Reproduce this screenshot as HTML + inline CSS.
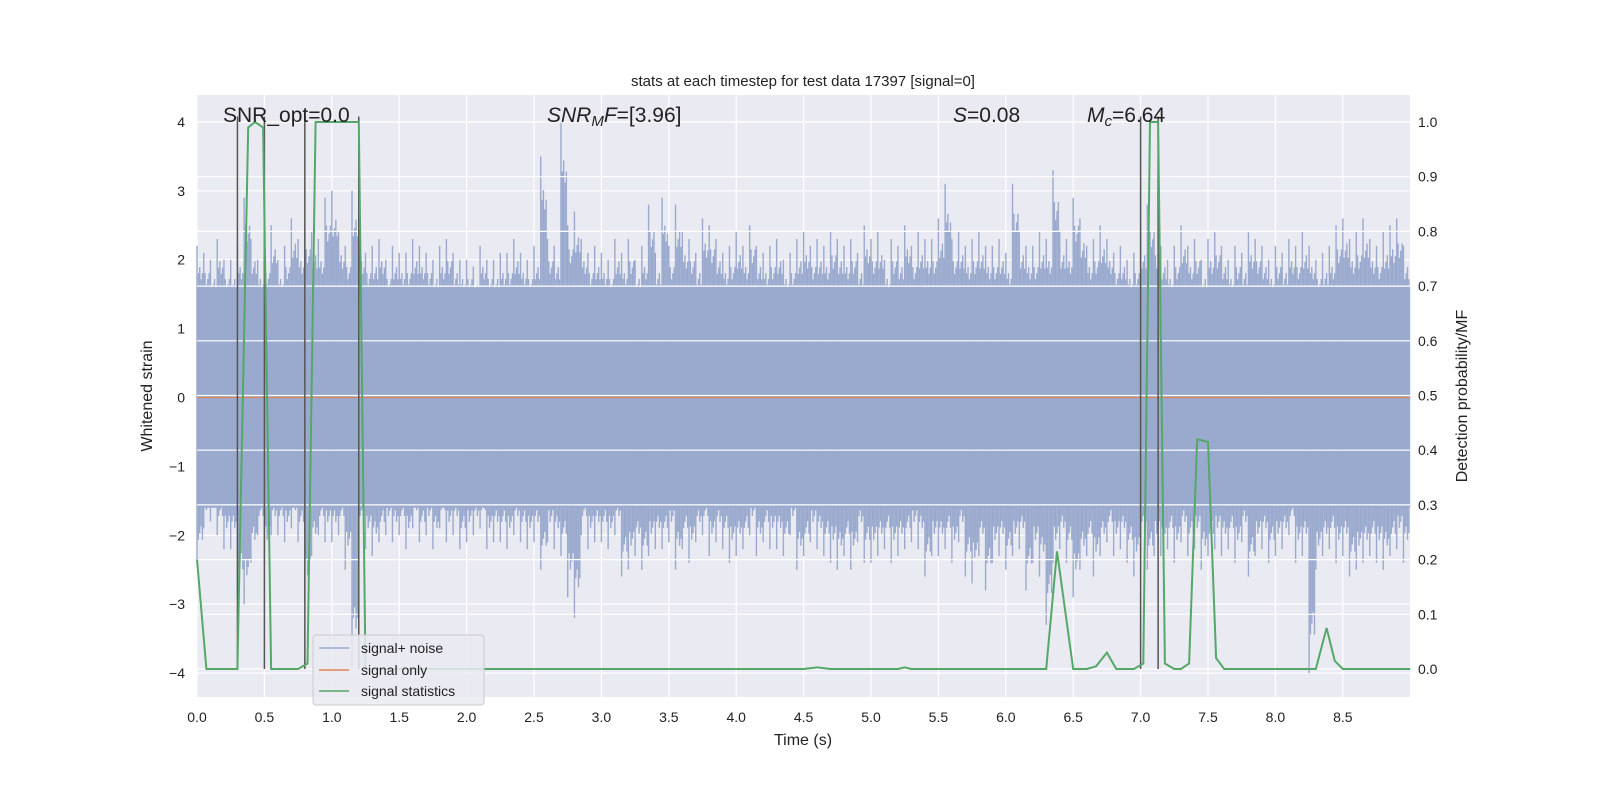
<!DOCTYPE html>
<html><head><meta charset="utf-8"><style>
html,body{margin:0;padding:0;background:#fff;}
svg{display:block;font-family:"Liberation Sans","DejaVu Sans",sans-serif;}
</style></head><body>
<svg id="chart" width="1600" height="800" viewBox="0 0 1600 800">
<rect x="0" y="0" width="1600" height="800" fill="#fff"/>
<rect x="197" y="95" width="1213" height="602" fill="#EAEAF2"/>
<g id="grid"></g>
<g id="noise"></g>
<g id="grid2"></g>
<g id="sig"></g>
<g id="vlines"></g>
<g id="stat"></g>
<g id="axes"></g>
<text x="803" y="86" font-size="15" text-anchor="middle" fill="#222">stats at each timestep for test data 17397 [signal=0]</text>
<text x="223" y="122" font-size="21" fill="#222">SNR_opt=0.0</text>
<text x="547" y="122" font-size="21" fill="#222"><tspan font-style="italic">SNR</tspan><tspan font-style="italic" font-size="15" dy="4">M</tspan><tspan font-style="italic" dy="-4">F</tspan>=[3.96]</text>
<text x="953" y="122" font-size="21" fill="#222"><tspan font-style="italic">S</tspan>=0.08</text>
<text x="1087" y="122" font-size="21" fill="#222"><tspan font-style="italic">M</tspan><tspan font-style="italic" font-size="15" dy="4">c</tspan><tspan dy="-4">=6.64</tspan></text>
<text x="803" y="745" font-size="16" text-anchor="middle" fill="#222">Time (s)</text>
<text transform="translate(152,396) rotate(-90)" font-size="16" text-anchor="middle" fill="#222">Whitened strain</text>
<text transform="translate(1467,396) rotate(-90)" font-size="16" text-anchor="middle" fill="#222">Detection probability/MF</text>
<g>
<rect x="313" y="635" width="171" height="70" rx="3" fill="#EAEAF2" fill-opacity="0.85" stroke="#ccc"/>
<g><line x1="319" y1="648" x2="349" y2="648" stroke="#9AAACE" stroke-width="1.5"/><text x="361" y="653" font-size="14" fill="#222">signal+ noise</text></g>
<g><line x1="319" y1="670" x2="349" y2="670" stroke="#DD8452" stroke-width="1.5"/><text x="361" y="675" font-size="14" fill="#222">signal only</text></g>
<g><line x1="319" y1="691" x2="349" y2="691" stroke="#55A868" stroke-width="1.5"/><text x="361" y="696" font-size="14" fill="#222">signal statistics</text></g>
</g>
</svg>
<script>
const xTicks=[0,0.5,1,1.5,2,2.5,3,3.5,4,4.5,5,5.5,6,6.5,7,7.5,8,8.5];
const yTicks=[-4,-3,-2,-1,0,1,2,3,4];
const y2Ticks=[0,0.1,0.2,0.3,0.4,0.5,0.6,0.7,0.8,0.9,1.0];
// noise envelope peaks every 0.05 s (upper / lower)
const noiseUp=[2.2,2.1,2.0,2.3,2.0,2.0,2.2,2.9,2.3,2.0,2.1,2.5,2.0,2.2,2.6,2.3,2.5,2.4,2.3,2.9,3.0,2.4,2.2,3.0,2.3,2.1,2.2,2.3,2.0,2.2,2.1,2.1,2.3,2.2,2.1,2.0,2.2,2.3,2.1,2.0,2.0,1.9,2.2,2.0,2.0,2.1,2.1,2.3,2.1,2.0,2.2,3.5,2.3,2.2,4.0,2.5,2.7,2.3,2.1,2.2,2.1,2.0,2.3,2.1,2.3,2.0,2.2,2.8,2.1,2.9,2.2,2.8,2.4,2.3,2.1,2.6,2.5,2.3,2.1,2.2,2.4,2.2,2.5,2.2,2.1,2.2,2.3,2.0,2.1,2.3,2.4,2.2,2.3,2.2,2.4,2.3,2.2,2.3,2.1,2.5,2.3,2.4,2.0,2.3,2.2,2.5,2.2,2.4,2.3,2.3,2.6,3.1,2.3,2.4,2.2,2.3,2.4,2.2,2.2,2.3,2.1,3.1,2.4,2.2,2.2,2.4,2.3,3.3,2.4,2.3,2.9,2.6,2.2,2.3,2.5,2.3,2.1,2.2,2.0,2.1,2.4,2.8,2.4,2.2,2.0,2.2,2.5,2.2,2.3,2.0,2.3,2.4,2.2,2.0,2.2,2.1,2.4,2.3,2.2,2.0,2.2,2.1,2.3,2.2,2.4,2.2,2.0,2.1,2.2,2.5,2.6,2.3,2.4,2.6,2.3,2.2,2.4,2.5,2.6,2.2];
const noiseDown=[-2.4,-1.9,-1.8,-2.0,-2.2,-2.2,-2.9,-3.0,-2.4,-2.0,-2.4,-2.0,-2.0,-2.1,-1.9,-2.1,-3.0,-2.3,-2.0,-2.1,-2.1,-2.0,-2.5,-3.9,-2.0,-2.2,-2.3,-2.1,-2.0,-2.1,-2.0,-2.2,-1.9,-2.1,-2.0,-2.2,-1.9,-2.1,-2.0,-2.2,-2.1,-2.0,-1.9,-2.2,-2.1,-2.1,-2.2,-2.0,-2.1,-2.2,-2.1,-2.5,-2.1,-2.2,-2.3,-2.9,-3.2,-2.0,-2.2,-2.1,-2.1,-2.2,-2.0,-2.6,-2.5,-2.3,-2.5,-2.3,-2.2,-2.2,-2.1,-2.5,-2.2,-2.4,-2.1,-2.0,-2.3,-2.1,-2.2,-2.4,-2.3,-2.2,-2.0,-2.3,-2.1,-2.2,-2.2,-2.3,-2.0,-2.5,-2.3,-2.1,-2.2,-2.3,-2.4,-2.5,-2.3,-2.5,-2.1,-2.4,-2.4,-2.3,-2.2,-2.4,-2.3,-2.2,-2.1,-2.2,-2.6,-2.3,-2.3,-2.2,-2.4,-2.1,-2.6,-2.7,-2.3,-2.8,-2.4,-2.3,-2.5,-2.3,-2.2,-2.8,-2.4,-2.6,-3.3,-2.4,-2.2,-2.4,-2.9,-2.5,-2.3,-2.6,-2.3,-2.1,-2.3,-2.2,-2.4,-2.6,-2.2,-2.5,-2.3,-2.3,-2.2,-2.4,-2.1,-2.3,-2.2,-2.5,-2.3,-2.2,-2.3,-2.2,-2.4,-2.1,-2.6,-2.3,-2.2,-2.4,-2.3,-2.2,-2.0,-2.4,-2.3,-4.0,-2.5,-2.3,-2.2,-2.4,-2.3,-2.6,-2.5,-2.4,-2.3,-2.4,-2.5,-2.3,-2.2,-2.4,-2.6,-2.3];
const noiseStep=0.05;
const statT=[0,0.07,0.3,0.38,0.43,0.49,0.55,0.75,0.82,0.88,1.2,1.25,4.5,4.6,4.7,5.2,5.25,5.3,6.3,6.38,6.5,6.6,6.67,6.75,6.82,6.95,7.02,7.07,7.13,7.18,7.25,7.3,7.36,7.42,7.5,7.56,7.62,8.3,8.38,8.44,8.5,9.0];
const statP=[0.2,0,0,0.99,1.0,0.99,0,0,0.01,1.0,1.0,0,0,0.003,0,0,0.003,0,0,0.215,0,0,0.005,0.03,0,0,0.01,1.0,1.0,0.01,0,0,0.01,0.42,0.415,0.02,0,0,0.075,0.015,0,0];
const markerT=[0.3,0.5,0.8,1.2,7.0,7.13];
const NS="http://www.w3.org/2000/svg";
const X=t=>197+t*134.8;
const Y=v=>397.5-v*68.9;
const Y2=p=>669-p*547;
function mk(tag,attrs,parent){const e=document.createElementNS(NS,tag);for(const k in attrs)e.setAttribute(k,attrs[k]);parent.appendChild(e);return e;}
const grid=document.getElementById('grid'),grid2=document.getElementById('grid2'),axes=document.getElementById('axes');
xTicks.forEach(t=>{
 const l=mk('line',{x1:X(t),x2:X(t),y1:95,y2:697,stroke:'#fff','stroke-width':1.2},grid);
 
 
 const tx=mk('text',{x:X(t),y:722,'font-size':14,'text-anchor':'middle',fill:'#222'},axes);
 tx.textContent=t.toFixed(1);
 
 
});
yTicks.forEach(v=>{
 const l=mk('line',{x1:197,x2:1410,y1:Y(v),y2:Y(v),stroke:'#fff','stroke-width':1.2},grid);
 
 
 const tx=mk('text',{x:185,y:Y(v)+5,'font-size':14,'text-anchor':'end',fill:'#222'},axes);
 tx.textContent=v<0?'\u2212'+(-v):String(v);
 
 
});
y2Ticks.forEach(p=>{
 const l=mk('line',{x1:197,x2:1410,y1:Y2(p),y2:Y2(p),stroke:'#fff','stroke-width':1.2},grid2);
 
 
 const tx=mk('text',{x:1418,y:Y2(p)+5,'font-size':14,fill:'#222'},axes);
 tx.textContent=p.toFixed(1);
 
 
});
const noise=document.getElementById('noise');
const band=mk('rect',{x:X(0),y:Y(1.6),width:X(9)-X(0),height:Y(-1.6)-Y(1.6),fill:'#9AAACE'},noise);


noiseUp.forEach((v,i)=>{
 const t=i*noiseStep;
 for(let k=0;k<5;k++){
  const tt=t+k*noiseStep/5;
  const f=k===0?1:(0.78+0.04*((i+k)%3));
  const l=mk('line',{x1:X(tt),x2:X(tt),y1:Y(v*f),y2:Y(noiseDown[i]*(k===0?1:(0.78+0.04*((i+2*k)%3)))),stroke:'#9AAACE','stroke-width':1.4},noise);
  
  
 }
});
const sig=mk('line',{x1:X(0),x2:1410,y1:Y(0),y2:Y(0),stroke:'#DD8452','stroke-width':1.3},document.getElementById('sig'));


const vl=document.getElementById('vlines');
markerT.forEach(t=>{
 const l=mk('line',{x1:X(t),x2:X(t),y1:Y2(1.01),y2:Y2(0),stroke:'#555','stroke-width':1.5},vl);
 
 
});
const pts=statT.map((t,i)=>X(t).toFixed(1)+','+Y2(statP[i]).toFixed(1)).join(' ');
const pl=mk('polyline',{points:pts,fill:'none',stroke:'#55A868','stroke-width':2},document.getElementById('stat'));


</script>
</body></html>
